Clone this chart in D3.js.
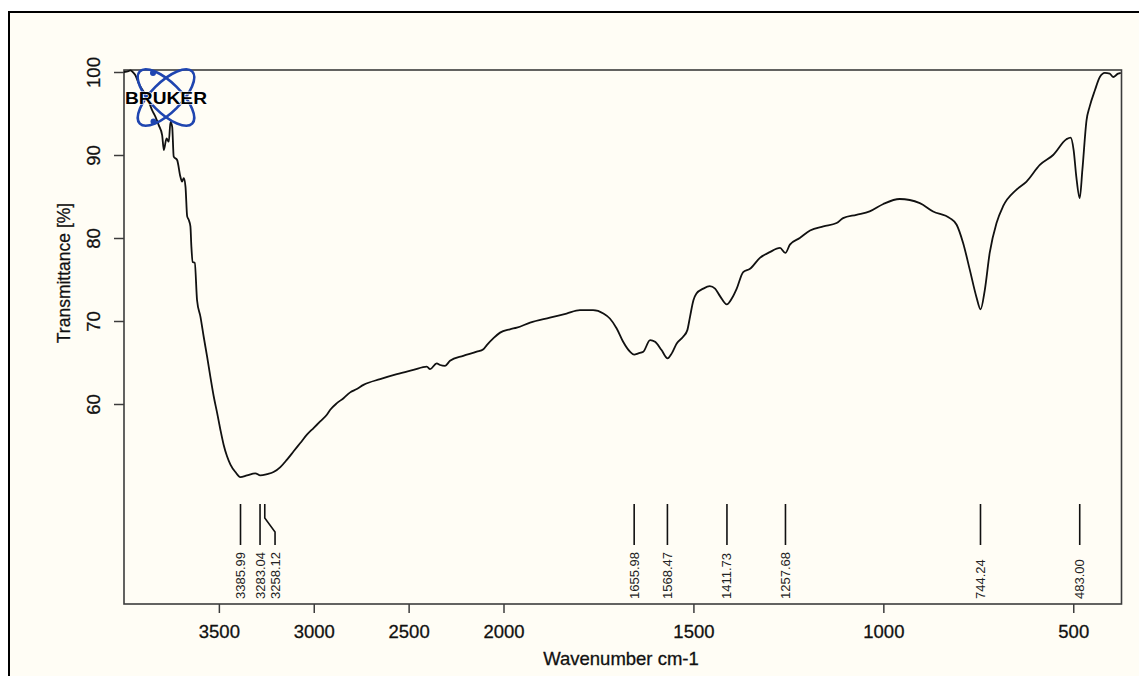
<!DOCTYPE html>
<html>
<head>
<meta charset="utf-8">
<script src="https://cdn.jsdelivr.net/npm/d3@7"></script>
<style>
  html, body { margin: 0; padding: 0; background: #ffffff; }
  svg { display: block; font-family: "Liberation Sans", Arial, sans-serif; }
</style>
</head>
<body>
<svg id="chart" width="1139" height="676"></svg>
<script>
// IR spectrum: wavenumber (cm-1) and transmittance (%)
const wavenumber = [
  4000, 3976, 3966, 3950, 3940, 3922, 3896, 3869, 3852, 3834, 3817, 3799, 3790, 3776, 3764, 3755,
  3746, 3738, 3720, 3703, 3694, 3685, 3676, 3667, 3659, 3650, 3645, 3638, 3627, 3615, 3597, 3580,
  3562, 3545, 3527, 3509, 3492, 3475, 3457, 3439, 3413, 3387, 3352, 3308, 3282, 3246, 3212, 3176,
  3141, 3106, 3071, 3036, 3001, 2966, 2931, 2913, 2878, 2843, 2808, 2773, 2738, 2650, 2562, 2475,
  2404, 2387, 2352, 2334, 2308, 2282, 2212, 2141, 2106, 2088, 2054, 2018, 1983, 1965, 1930, 1878,
  1834, 1799, 1764, 1737, 1720, 1702, 1685, 1667, 1656, 1645, 1632, 1614, 1601, 1584, 1568, 1557,
  1544, 1527, 1516, 1509, 1500, 1492, 1474, 1457, 1443, 1430, 1412, 1399, 1386, 1369, 1351, 1325,
  1299, 1272, 1258, 1246, 1220, 1193, 1158, 1123, 1106, 1071, 1036, 1000, 957, 904, 869, 825,
  807, 790, 772, 755, 744, 733, 720, 702, 685, 650, 623, 588, 553, 518, 507, 499,
  492, 483, 476, 465, 457, 443, 430, 417, 404, 395, 382, 375
];
const transmittance = [
  100.0, 100.1, 100.2, 99.9, 99.6, 98.6, 97.6, 96.4, 95.4, 94.6, 93.6, 92.4, 90.6, 92.0, 91.6, 94.0,
  93.4, 89.8, 89.4, 87.4, 86.8, 87.2, 86.2, 82.6, 82.2, 81.4, 79.0, 77.1, 77.0, 72.5, 70.5, 68.1,
  65.7, 63.3, 60.9, 58.9, 56.9, 55.1, 53.7, 52.7, 51.8, 51.2, 51.4, 51.65, 51.4, 51.55, 51.8, 52.4,
  53.3, 54.3, 55.3, 56.3, 57.1, 57.9, 58.7, 59.3, 60.1, 60.7, 61.4, 61.8, 62.3, 63.0, 63.6, 64.1,
  64.5, 64.2, 64.9, 64.7, 64.6, 65.2, 65.8, 66.3, 66.6, 67.1, 67.9, 68.6, 69.0, 69.2, 69.8, 70.4,
  70.9, 71.3, 71.3, 70.9, 70.3, 69.1, 67.5, 66.3, 65.95, 66.1, 66.3, 67.7, 67.5, 66.5, 65.5, 66.1,
  67.3, 68.1, 68.9, 70.5, 72.5, 73.3, 73.9, 74.2, 73.9, 73.0, 72.0, 72.7, 73.9, 75.9, 76.3, 77.6,
  78.3, 78.8, 78.2, 79.2, 80.0, 80.9, 81.4, 81.8, 82.4, 82.8, 83.2, 84.1, 84.7, 84.2, 83.2, 82.4,
  81.6, 79.4, 76.1, 72.9, 71.4, 73.7, 78.2, 81.8, 83.8, 85.8, 86.8, 88.8, 90.0, 91.9, 92.1, 90.6,
  87.4, 84.8, 88.2, 94.2, 95.8, 97.8, 99.4, 99.9, 99.8, 99.4, 99.8, 99.9
];

// Picked peaks
const peakPositions = [3385.99, 3283.04, 3258.12, 1655.98, 1568.47, 1411.73, 1257.68, 744.24, 483.00];

// Axis ticks
const xTicks = [3500, 3000, 2500, 2000, 1500, 1000, 500];
const yTicks = [60, 70, 80, 90, 100];

const xTitle = "Wavenumber cm-1";
const yTitle = "Transmittance [%]";

const svg = d3.select("#chart");

// Page frame
svg.append("rect")
  .attr("x", 9).attr("y", 12)
  .attr("width", 1160).attr("height", 700)
  .attr("fill", "#fffdf5")
  .attr("stroke", "#000").attr("stroke-width", 2);

const plot = { left: 124, right: 1121.5, top: 70, bottom: 604 };

// Wavenumber axis is compressed by a factor of two above 2000 cm-1
const x = d3.scaleLinear()
  .domain([4000, 2000, 373])
  .range([plot.left, 503.5, plot.right]);

const y = d3.scaleLinear()
  .domain([100 - (plot.bottom - 72) / 8.3, 100 + 2 / 8.3])
  .range([plot.bottom, plot.top]);

const axisColor = "#3c3c3c";
const textColor = "#111";

// X axis
const gx = svg.append("g")
  .attr("transform", `translate(0,${plot.bottom})`)
  .call(d3.axisBottom(x).tickValues(xTicks).tickSize(9).tickSizeOuter(0).tickPadding(12).tickFormat(d3.format("d")));
gx.select(".domain").remove();
gx.selectAll(".tick line").attr("stroke", axisColor).attr("stroke-width", 1.5);
gx.selectAll(".tick text")
  .attr("fill", textColor)
  .attr("stroke", textColor).attr("stroke-width", 0.3)
  .style("font-size", "18.5px");

// Y axis with rotated labels
const gy = svg.append("g")
  .attr("transform", `translate(${plot.left},0)`)
  .call(d3.axisLeft(y).tickValues(yTicks).tickSize(10).tickSizeOuter(0).tickFormat(d3.format("d")));
gy.select(".domain").remove();
gy.selectAll(".tick line").attr("stroke", axisColor).attr("stroke-width", 1.5);
gy.selectAll(".tick text")
  .attr("x", null).attr("dy", null)
  .attr("text-anchor", "middle")
  .attr("transform", "translate(-24,0) rotate(-90)")
  .attr("fill", textColor)
  .attr("stroke", textColor).attr("stroke-width", 0.3)
  .style("font-size", "18.5px");

// Plot box
svg.append("rect")
  .attr("x", plot.left).attr("y", plot.top)
  .attr("width", plot.right - plot.left).attr("height", plot.bottom - plot.top)
  .attr("fill", "none").attr("stroke", axisColor).attr("stroke-width", 1.6);

// Spectrum
const points = wavenumber.map((w, i) => [w, transmittance[i]]);
const line = d3.line()
  .x(d => x(d[0]))
  .y(d => y(d[1]))
  .curve(d3.curveMonotoneX);

svg.append("path")
  .datum(points)
  .attr("d", line)
  .attr("fill", "none")
  .attr("stroke", "#111")
  .attr("stroke-width", 1.8)
  .attr("stroke-linejoin", "round");

// Peak markers with labels spread apart when they would collide
const minGap = 15;
const peaks = peakPositions.map(p => ({ value: p, lx: x(p) })).sort((a, b) => a.lx - b.lx);
peaks.forEach((p, i) => {
  p.tx = i === 0 ? p.lx : Math.max(p.lx, peaks[i - 1].tx + minGap);
});

const markTop = 504, bendTop = 518, bendBottom = 532, markBottom = 545, textBase = 599;
const gp = svg.append("g");
peaks.forEach(p => {
  const pts = p.tx === p.lx
    ? [[p.lx, markTop], [p.lx, markBottom]]
    : [[p.lx, markTop], [p.lx, bendTop], [p.tx, bendBottom], [p.tx, markBottom]];
  gp.append("path")
    .attr("d", d3.line()(pts))
    .attr("fill", "none").attr("stroke", "#111").attr("stroke-width", 1.6);
  gp.append("text")
    .attr("transform", `translate(${p.tx + 4.5},${textBase}) rotate(-90)`)
    .attr("text-anchor", "start")
    .attr("fill", "#222")
    .style("font-size", "13px")
    .text(p.value.toFixed(2));
});

// Axis titles
svg.append("text")
  .attr("x", 621).attr("y", 665)
  .attr("text-anchor", "middle")
  .attr("fill", textColor)
  .attr("stroke", textColor).attr("stroke-width", 0.3)
  .style("font-size", "18.5px")
  .text(xTitle);

svg.append("text")
  .attr("transform", "translate(70,273) rotate(-90)")
  .attr("text-anchor", "middle")
  .attr("fill", textColor)
  .attr("stroke", textColor).attr("stroke-width", 0.25)
  .style("font-size", "17.5px")
  .text(yTitle);

// Instrument logo
const logo = svg.append("g").attr("transform", "translate(166,97.5)");
[45, -45].forEach(a => {
  logo.append("ellipse")
    .attr("rx", 37).attr("ry", 15)
    .attr("transform", `rotate(${a})`)
    .attr("fill", "none")
    .attr("stroke", "#1f45b0")
    .attr("stroke-width", 2.6);
});
[[-13, -24.5], [-12.5, 24]].forEach(([cx, cy]) => {
  logo.append("circle").attr("cx", cx).attr("cy", cy).attr("r", 3).attr("fill", "#1f45b0");
});
logo.append("text")
  .attr("x", -41).attr("y", 6)
  .attr("textLength", 82)
  .attr("lengthAdjust", "spacingAndGlyphs")
  .attr("fill", "#000")
  .attr("stroke", "#ffffff")
  .attr("stroke-width", 1.2)
  .attr("paint-order", "stroke")
  .style("font-size", "16.5px")
  .style("font-weight", "900")
  .text("BRUKER");
</script>
</body>
</html>
